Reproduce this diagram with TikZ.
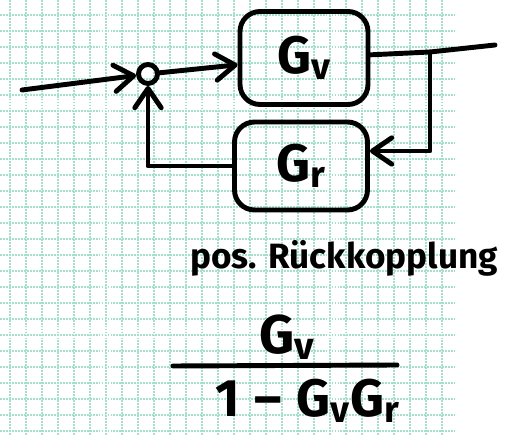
\documentclass[tikz,border=0pt]{standalone}
\usepackage{fontspec}
\setmainfont{Fira Sans}
\usetikzlibrary{arrows.meta}

\definecolor{gitter}{RGB}{166,224,204}

\tikzset{
  stift/.style={line width=2.8pt, line cap=round, line join=round},
  block/.style={draw, stift, rectangle, rounded corners=0.4cm},
  >={Straight Barb[length=11pt, width=15pt, round]}
}

\begin{document}
\begin{tikzpicture}[x=0.02cm, y=-0.02cm, font=\bfseries]
    % Hintergrund
    \useasboundingbox[fill=white] (0,0) rectangle (508,435);

    % Karopapier
    \foreach \gx in {10,26,...,442}
      \draw[gitter, line width=1.1pt, dash pattern=on 1.1pt off 0.6pt] (\gx,0) -- (\gx,435);
    \foreach \gy in {15,31,...,431}
      \draw[gitter, line width=1.1pt, dash pattern=on 1.1pt off 0.6pt] (0,\gy) -- (455,\gy);

    % Summierstelle
    \node[draw, stift, circle, minimum size=0.38cm, inner sep=0pt] (sum) at (148,74) {};

    % Bloecke
    \node[block, minimum width=2.56cm, minimum height=1.86cm, font=\bfseries\fontsize{30}{32}\selectfont] (gv) at (304,58) {G\textsubscript{v}};
    \node[block, minimum width=2.66cm, minimum height=1.76cm, font=\bfseries\fontsize{30}{32}\selectfont] (gr) at (301,166) {G\textsubscript{r}};

    % Ein- und Ausgang
    \coordinate (in) at (22,90);
    \coordinate (branch) at (430,52);
    \coordinate (out) at (495,45);

    % Signalwege
    \draw[stift, ->] (in) -- (sum);
    \draw[stift, ->] (sum) -- (gv);
    \draw[stift] (gv) -- (branch) -- (out);
    \draw[stift, ->] (branch) |- ([yshift=0.3cm]gr.east);
    \draw[stift, ->] (gr.west) -| (sum.south);

    % Beschriftung
    \node[font=\bfseries\fontsize{20}{22}\selectfont] (titel) at (344,258) {pos. Rückkopplung};

    % Bruch
    \node[font=\bfseries\fontsize{31}{34}\selectfont] (zaehler) at (287,337) {G\textsubscript{v}};
    \coordinate (bruchL) at (173,366);
    \coordinate (bruchR) at (397,365);
    \draw[stift] (bruchL) -- (bruchR);
    \node[font=\bfseries\fontsize{30}{32}\selectfont] (nenner) at (308,401) {1\;–\;G\textsubscript{v}G\textsubscript{r}};
\end{tikzpicture}
\end{document}
